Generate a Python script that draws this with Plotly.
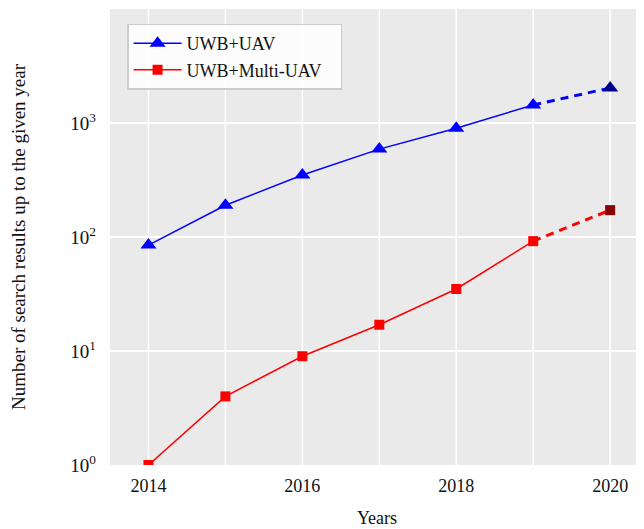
import plotly.graph_objects as go

years = [2014, 2015, 2016, 2017, 2018, 2019]
uwb_uav = [85, 190, 350, 590, 900, 1440]
uwb_multi = [1, 4, 9, 17, 35, 92]

proj_years = [2019, 2020]
uwb_uav_proj = [1440, 2030]
uwb_multi_proj = [92, 172]

font_family = "Liberation Serif"

fig = go.Figure()

fig.add_trace(go.Scatter(
    x=proj_years, y=uwb_uav_proj, mode="lines",
    line=dict(color="#0000FF", width=3, dash="8px,6px"), showlegend=False))
fig.add_trace(go.Scatter(
    x=proj_years, y=uwb_multi_proj, mode="lines",
    line=dict(color="#FF0000", width=3, dash="8px,6px"), showlegend=False))
fig.add_trace(go.Scatter(
    x=proj_years[1:], y=uwb_uav_proj[1:], mode="markers",
    marker=dict(symbol="triangle-up", size=14, color="#00008B"), showlegend=False))
fig.add_trace(go.Scatter(
    x=proj_years[1:], y=uwb_multi_proj[1:], mode="markers",
    marker=dict(symbol="square", size=10, color="#8B0000"), showlegend=False))

fig.add_trace(go.Scatter(
    x=years, y=uwb_uav, mode="lines+markers", name="UWB+UAV",
    line=dict(color="#0000FF", width=1.5),
    marker=dict(symbol="triangle-up", size=14, color="#0000FF")))
fig.add_trace(go.Scatter(
    x=years, y=uwb_multi, mode="lines+markers", name="UWB+Multi-UAV\u00a0\u00a0\u00a0",
    line=dict(color="#FF0000", width=1.5),
    marker=dict(symbol="square", size=10, color="#FF0000")))

fig.update_layout(
    width=636, height=521,
    margin=dict(l=102, r=0, t=1, b=64),
    paper_bgcolor="white",
    plot_bgcolor="#EAEAEA",
    font=dict(family=font_family, size=18, color="#111111"),
    legend=dict(
        x=0.032, y=0.968, xanchor="left", yanchor="top",
        bgcolor="rgba(255,255,255,0.85)", bordercolor="#CCCCCC", borderwidth=1.5,
        font=dict(size=18, family=font_family),
        itemwidth=48,
    ),
    xaxis=dict(
        range=[2013.5, 2020.44],
        tickvals=[2014, 2016, 2018, 2020],
        showgrid=False, zeroline=False,
        ticks="", ticklabelstandoff=8,
        tickfont=dict(size=18),
        title=dict(text="Years", standoff=16, font=dict(size=18)),
    ),
    yaxis=dict(
        type="log", range=[0, 4.0],
        tickvals=[1, 10, 100, 1000],
        ticktext=["10<sup>0</sup>", "10<sup>1</sup>", "10<sup>2</sup>", "10<sup>3</sup>"],
        gridcolor="white", gridwidth=1.5, zeroline=False,
        ticks="", ticklabelstandoff=13,
        tickfont=dict(size=19),
        title=dict(text="Number of search results up to the given year", standoff=40, font=dict(size=19)),
    ),
)

for yr in range(2014, 2021):
    fig.add_shape(type="line", x0=yr, x1=yr, y0=0, y1=1, xref="x", yref="paper",
                  line=dict(color="white", width=1.5), layer="below")

fig.write_html("out.html")
